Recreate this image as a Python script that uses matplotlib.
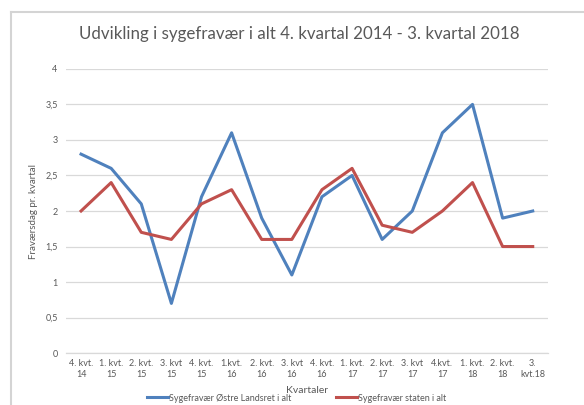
import matplotlib.pyplot as plt
from matplotlib.lines import Line2D

plt.rcParams['font.family'] = ['Lato', 'DejaVu Sans']

# quarters on the x axis
quarters = ["4. kvt.\n14", "1. kvt.\n15", "2. kvt.\n15", "3. kvt\n15", "4. kvt.\n15",
            "1.kvt.\n16", "2. kvt.\n16", "3. kvt\n16", "4. kvt.\n16", "1. kvt.\n17",
            "2. kvt.\n17", "3. kvt\n17", "4.kvt.\n17", "1. kvt.\n18", "2. kvt.\n18",
            "3.\nkvt.18"]

# absence days per quarter
ostre_landsret = [2.8, 2.6, 2.1, 0.7, 2.2, 3.1, 1.9, 1.1, 2.2, 2.5, 1.6, 2.0, 3.1, 3.5, 1.9, 2.0]
staten = [2.0, 2.4, 1.7, 1.6, 2.1, 2.3, 1.6, 1.6, 2.3, 2.6, 1.8, 1.7, 2.0, 2.4, 1.5, 1.5]

yticks = [0, 0.5, 1, 1.5, 2, 2.5, 3, 3.5, 4]
ytick_labels = ["0", "0,5", "1", "1,5", "2", "2,5", "3", "3,5", "4"]

text_col = "#595959"
grid_col = "#d9d9d9"

fig = plt.figure(figsize=(5.84, 4.05), dpi=100)
ax = fig.add_axes([0.113, 0.128, 0.825, 0.702])

x = list(range(len(quarters)))
ax.plot(x, ostre_landsret, color="#4F81BD", lw=2.2, label="Sygefravær Østre Landsret i alt")
ax.plot(x, staten, color="#C0504D", lw=2.2, label="Sygefravær staten i alt")

ax.set_xlim(-0.5, len(quarters) - 0.5)
ax.set_ylim(0, 4)
ax.set_yticks(yticks)
ax.set_yticklabels(ytick_labels)
ax.set_xticks(x)
ax.set_xticklabels(quarters, linespacing=1.35)
ax.tick_params(axis="both", length=0, labelsize=6.5, colors=text_col)
ax.tick_params(axis="y", pad=6)
ax.tick_params(axis="x", pad=4)

ax.grid(axis="y", color=grid_col, lw=0.9)
ax.set_axisbelow(True)
for s in ["top", "right", "left"]:
    ax.spines[s].set_visible(False)
ax.spines["bottom"].set_color(grid_col)
ax.spines["bottom"].set_linewidth(0.9)

ax.set_ylabel("Fraværsdag pr. kvartal", fontsize=7, color=text_col, labelpad=5)
ax.set_xlabel("Kvartaler", fontsize=7.5, color=text_col, va="center")
ax.xaxis.set_label_coords(0.5, -0.13)

fig.text(0.512, 0.915, "Udvikling i sygefravær i alt 4. kvartal 2014 - 3. kvartal 2018",
         ha="center", va="center", fontsize=12.2, color=text_col)

fig.legend(loc="lower center", bbox_to_anchor=(0.508, -0.014), ncol=2, frameon=False,
           fontsize=6.5, labelcolor=text_col, handlelength=2.3, handletextpad=0.1,
           columnspacing=5.0)

# outer chart frame (left and top edges)
fig.add_artist(Line2D([0.019, 0.019], [0, 0.97], color="#d4d4d4", lw=1.5))
fig.add_artist(Line2D([0.019, 1.0], [0.97, 0.97], color="#d4d4d4", lw=1.5))

fig.savefig("out.png", dpi=100)
